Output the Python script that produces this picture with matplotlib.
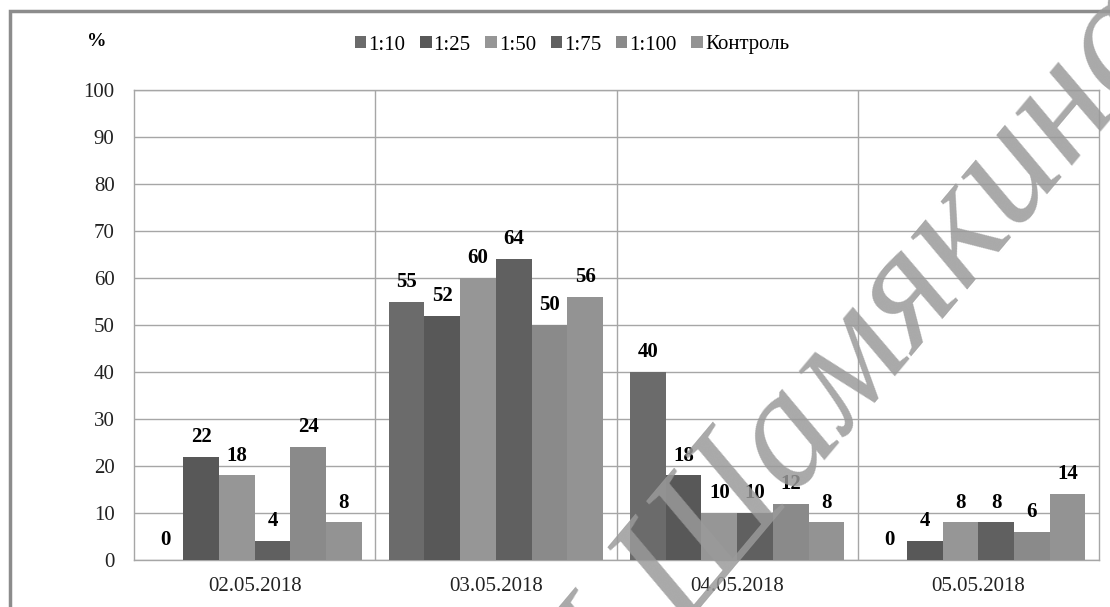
import matplotlib
matplotlib.use("Agg")
import matplotlib.pyplot as plt
import matplotlib.patches as patches
import numpy as np

plt.rcParams["font.family"] = ["Liberation Serif", "DejaVu Serif"]

dates = ["02.05.2018", "03.05.2018", "04.05.2018", "05.05.2018"]
series = ["1:10", "1:25", "1:50", "1:75", "1:100", "Контроль"]
r_1_10 = [0, 55, 40, 0]
r_1_25 = [22, 52, 18, 4]
r_1_50 = [18, 60, 10, 8]
r_1_75 = [4, 64, 10, 8]
r_1_100 = [24, 50, 12, 6]
control = [8, 56, 8, 14]
values = [r_1_10, r_1_25, r_1_50, r_1_75, r_1_100, control]
colors = ["#6b6b6b", "#585858", "#969696", "#606060", "#8a8a8a", "#939393"]

fig = plt.figure(figsize=(11.1, 6.07), dpi=100)
ax = fig.add_axes([134 / 1110, 1 - 560 / 607, (1099 - 134) / 1110, (560 - 90) / 607])

x = np.arange(len(dates))
w = 0.148
for i, (name, vals, c) in enumerate(zip(series, values, colors)):
    pos = x + (i - 2.5) * w
    bars = ax.bar(pos, vals, w, color=c, label=name, zorder=3)
    for b, v in zip(bars, vals):
        ax.annotate(str(v), (b.get_x() + b.get_width() / 2, v),
                    xytext=(0, 7), textcoords="offset points",
                    ha="center", va="bottom", fontsize=15, fontweight="bold",
                    zorder=4)

ax.set_xlim(-0.5, 3.5)
ax.set_ylim(0, 100)
ax.set_yticks(range(0, 101, 10))
ax.set_xticks(x)
ax.set_xticklabels(dates)
ax.set_xticks([0.5, 1.5, 2.5], minor=True)
ax.tick_params(axis="both", which="both", length=0, labelsize=15, colors="#222222")
ax.tick_params(axis="y", pad=14)
ax.tick_params(axis="x", pad=12)
ax.grid(axis="y", color="#a6a6a6", linewidth=1, zorder=0)
ax.grid(axis="x", which="minor", color="#a6a6a6", linewidth=1, zorder=0)
for s in ax.spines.values():
    s.set_color("#a6a6a6")
    s.set_linewidth(1)

fig.text(97 / 1110, 1 - 42 / 607, "%", fontsize=14, fontweight="bold",
         ha="center", va="center")

leg = fig.legend(loc="center", bbox_to_anchor=(572 / 1110, 1 - 45 / 607), ncol=6,
                 frameon=False, fontsize=15, handlelength=0.55, handleheight=0.55,
                 handletextpad=0.1, columnspacing=0.7)

# outer chart border
fig.patches.append(patches.Rectangle((10 / 1110, -0.1), 1.2, 1.1 - 11 / 607,
                                     transform=fig.transFigure, fill=False,
                                     edgecolor="#8c8c8c", linewidth=2.5))

# watermark
fig.text(795 / 1110, 1 - 435 / 607, "И.П.Шамякина", fontsize=120,
         style="italic", color="#9a9a9a", alpha=0.85, rotation=50,
         rotation_mode="anchor", ha="center", va="center", zorder=10)

fig.savefig("out.png", dpi=100)
